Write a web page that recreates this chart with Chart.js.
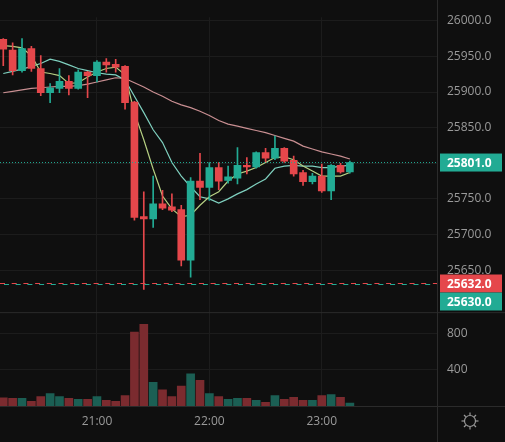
<!DOCTYPE html>
<html>
<head>
<meta charset="utf-8">
<script src="https://cdn.jsdelivr.net/npm/chart.js@4"></script>
<style>
  html, body { margin: 0; padding: 0; background: #0f0f0f; }
  #wrap { width: 505px; height: 442px; }
</style>
</head>
<body>
<div id="wrap"><canvas id="kline"></canvas></div>
<script>
// 5-minute candles, index 0..37
var opens  = [25974,25959,25930,25961,25933,25899,25905,25915,25905,25928,25923,25942,25939,25936,25886,25725,25722,25743,25739,25735,25664,25775,25766,25794,25776,25779,25797,25795,25815,25807,25821,25804,25787,25774,25782,25761,25797,25788];
var closes = [25960,25930,25961,25933,25899,25906,25915,25905,25928,25923,25942,25938,25935,25885,25724,25722,25743,25737,25734,25664,25775,25766,25794,25775,25781,25797,25795,25815,25807,25821,25803,25785,25774,25782,25761,25797,25788,25801];
var highs  = [25975,25969,25975,25964,25951,25912,25933,25923,25931,25929,25944,25947,25946,25937,25887,25760,25782,25762,25757,25741,25780,25814,25801,25801,25796,25822,25808,25816,25821,25838,25822,25810,25790,25786,25799,25798,25800,25803];
var lows   = [25937,25924,25928,25929,25895,25885,25899,25896,25904,25892,25914,25928,25928,25876,25720,25623,25710,25735,25732,25656,25640,25749,25748,25763,25772,25771,25785,25793,25802,25805,25801,25782,25769,25771,25759,25749,25786,25786];
var volumes = [91,84,84,53,105,137,105,84,74,74,105,63,53,116,821,906,263,179,105,221,358,284,137,105,74,84,84,63,42,116,74,95,63,63,116,126,95,32];
var maFast = [25965,25964,25962,25951,25928,25926,25923,25912,25913,25921,25928,25933,25935,25924,25871,25833,25792,25754,25736,25725,25727,25741,25753,25760,25775,25785,25789,25794,25801,25808,25809,25805,25796,25789,25782,25782,25782,25787];
var maMid  = [25926,25929,25932,25936,25940,25946,25943,25938,25933,25930,25927,25925,25924,25917,25894,25871,25847,25829,25801,25782,25767,25753,25750,25744,25750,25757,25763,25771,25778,25793,25796,25797,25796,25796,25794,25794,25796,25797];
var maSlow = [25899,25901,25903,25905,25906,25907,25908,25908,25909,25911,25914,25917,25920,25919,25913,25907,25900,25894,25887,25882,25878,25873,25867,25860,25855,25852,25849,25846,25843,25839,25835,25831,25824,25820,25816,25813,25810,25806];
var timeTicks = { 10: "21:00", 22: "22:00", 34: "23:00" };
var priceTicks = [25650, 25700, 25750, 25800, 25850, 25900, 25950, 26000];
var lastPrice = 25801, markPrice = 25632, bidPrice = 25630;

var UP = "#22ab94", DOWN = "#e5474b", UPV = "#1b5f54", DOWNV = "#7b2b2f";
var candleColors = opens.map(function (o, i) { return closes[i] >= o ? UP : DOWN; });
var volColors = opens.map(function (o, i) { return closes[i] >= o ? UPV : DOWNV; });

function pts(arr) { return arr.map(function (v, i) { return { x: i, y: v }; }); }

var overlay = {
  id: "overlay",
  afterDraw: function (chart) {
    var c = chart.ctx, y = chart.scales.y, area = chart.chartArea;
    var right = chart.scales.y.left;
    c.save();
    // last price dotted line
    var py = y.getPixelForValue(lastPrice);
    c.strokeStyle = UP; c.lineWidth = 1; c.setLineDash([1, 2]);
    c.beginPath(); c.moveTo(0, py); c.lineTo(right, py); c.stroke();
    // mark price dashed line red/teal
    var my = Math.round(y.getPixelForValue(markPrice)) + 0.5;
    c.setLineDash([5, 6.7]);
    c.strokeStyle = DOWN; c.beginPath(); c.moveTo(0, my); c.lineTo(right, my); c.stroke();
    c.lineDashOffset = -4;
    c.strokeStyle = UP; c.beginPath(); c.moveTo(0, my + 1); c.lineTo(right, my + 1); c.stroke();
    c.setLineDash([]); c.lineDashOffset = 0;
    // pane separator and axis border
    var sep = chart.scales.v.top;
    c.strokeStyle = "#2b2b2b";
    c.beginPath(); c.moveTo(0, sep + 0.5); c.lineTo(505, sep + 0.5); c.stroke();
    c.beginPath(); c.moveTo(right + 0.5, 0); c.lineTo(right + 0.5, 442); c.stroke();
    c.beginPath(); c.moveTo(0, area.bottom + 0.5); c.lineTo(505, area.bottom + 0.5); c.stroke();
    // price boxes
    function box(val, yc, bg) {
      c.fillStyle = bg;
      c.fillRect(right + 3, yc - 9, 62, 18);
      c.fillStyle = "#ffffff";
      c.font = "bold 12px 'Open Sans', sans-serif";
      c.textBaseline = "middle"; c.textAlign = "left";
      c.fillText(val.toFixed(1), right + 10, yc + 1);
    }
    box(lastPrice, py, UP);
    box(markPrice, my, DOWN);
    box(bidPrice, my + 18, UP);
    // gear icon
    var gx = 470, gy = 421;
    c.strokeStyle = "#9a9a9a"; c.lineWidth = 1.2;
    c.beginPath(); c.arc(gx, gy, 5.5, 0, Math.PI * 2); c.stroke();
    for (var k = 0; k < 8; k++) {
      var a = k * Math.PI / 4;
      c.beginPath();
      c.moveTo(gx + Math.cos(a) * 6, gy + Math.sin(a) * 6);
      c.lineTo(gx + Math.cos(a) * 8.5, gy + Math.sin(a) * 8.5);
      c.stroke();
    }
    c.restore();
  }
};

var ctx = document.getElementById("kline").getContext("2d");
var chart = new Chart(ctx, {
  type: "bar",
  data: {
    datasets: [
      { type: "line", data: pts(maSlow), borderColor: "#c98f92", borderWidth: 1.2, pointRadius: 0, yAxisID: "y", order: 5 },
      { type: "line", data: pts(maMid), borderColor: "#7fd0bf", borderWidth: 1.2, pointRadius: 0, yAxisID: "y", order: 4 },
      { type: "line", data: pts(maFast), borderColor: "#b5cf82", borderWidth: 1.2, pointRadius: 0, yAxisID: "y", order: 3 },
      { data: lows.map(function (l, i) { return { x: i, y: [l, highs[i]] }; }),
        backgroundColor: candleColors, barThickness: 1, grouped: false, yAxisID: "y", order: 2 },
      { data: opens.map(function (o, i) { return { x: i, y: [o, o === closes[i] ? o + 0.8 : closes[i]] }; }),
        backgroundColor: candleColors, barThickness: 7, grouped: false, yAxisID: "y", order: 1 },
      { data: pts(volumes), backgroundColor: volColors, barThickness: 8, grouped: false, yAxisID: "v", order: 6 }
    ]
  },
  options: {
    responsive: true,
    maintainAspectRatio: false,
    animation: false,
    layout: { padding: 0 },
    plugins: { legend: { display: false }, tooltip: { enabled: false } },
    scales: {
      x: {
        type: "linear", min: -0.35, max: 46.3, offset: false,
        afterBuildTicks: function (ax) { ax.ticks = [10, 22, 34].map(function (v) { return { value: v }; }); },
        ticks: { color: "#9a9a9a", font: { size: 12, family: "'Open Sans', sans-serif" }, padding: 8,
          callback: function (v) { return timeTicks[v] || ""; } },
        grid: { color: "#1c1c1c", drawTicks: false, offset: false },
        border: { display: false },
        afterFit: function (ax) { ax.height = 36; }
      },
      y: {
        position: "right", stack: "p", stackWeight: 308, min: 25591, max: 26005,
        afterBuildTicks: function (ax) { ax.ticks = priceTicks.map(function (v) { return { value: v }; }); },
        ticks: { color: "#9a9a9a", font: { size: 12, family: "'Open Sans', sans-serif" }, padding: 10,
          callback: function (v) { return v.toFixed(1); } },
        grid: { color: "#1c1c1c", drawTicks: false },
        border: { display: false },
        afterFit: function (ax) { ax.width = 68; }
      },
      v: {
        position: "right", stack: "p", stackWeight: 98, min: 0, max: 1042, offset: false,
        afterBuildTicks: function (ax) { ax.ticks = [400, 800].map(function (v) { return { value: v }; }); },
        ticks: { color: "#9a9a9a", font: { size: 12, family: "'Open Sans', sans-serif" }, padding: 10 },
        grid: { color: "#1c1c1c", drawTicks: false },
        border: { display: false },
        afterFit: function (ax) { ax.width = 68; }
      }
    }
  },
  plugins: [overlay]
});
</script>
</body>
</html>
